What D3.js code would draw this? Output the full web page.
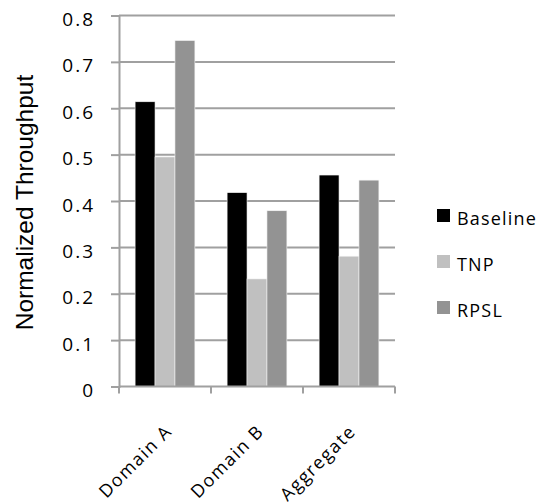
<!DOCTYPE html>
<html>
<head>
<meta charset="utf-8">
<script src="https://cdn.jsdelivr.net/npm/d3@7"></script>
<style>
  body { margin: 0; background: #fff; }
  text { font-family: "Open Sans", "Liberation Sans", sans-serif; fill: #000; }
</style>
</head>
<body>
<div id="chart"></div>
<script>
// data
const categories = ["Domain A", "Domain B", "Aggregate"];
const seriesNames = ["Baseline", "TNP", "RPSL"];
const baseline = [0.614, 0.418, 0.456];
const tnp = [0.495, 0.232, 0.281];
const rpsl = [0.746, 0.379, 0.445];
const yTicks = [0, 0.1, 0.2, 0.3, 0.4, 0.5, 0.6, 0.7, 0.8];

const colors = ["#000000", "#c0c0c0", "#939393"];
const seriesValues = [baseline, tnp, rpsl];

const margin = { top: 15.5, right: 148, bottom: 117.5, left: 119 };
const width = 543 - margin.left - margin.right;
const height = 504 - margin.top - margin.bottom;

const svg = d3.select("#chart")
    .append("svg")
    .attr("width", 543)
    .attr("height", 504);

const g = svg.append("g")
    .attr("transform", `translate(${margin.left},${margin.top})`);

const x0 = d3.scaleBand()
    .domain(categories)
    .range([0, width])
    .paddingInner(0.35)
    .paddingOuter(0.175);

const x1 = d3.scaleBand()
    .domain(seriesNames)
    .range([0, x0.bandwidth()]);

const y = d3.scaleLinear()
    .domain([0, 0.8])
    .range([height, 0]);

// gridlines + y axis
const yAxis = d3.axisLeft(y)
    .tickValues(yTicks)
    .tickFormat(d => d === 0 ? "0" : d3.format(".1f")(d))
    .tickSize(8)
    .tickPadding(16);

g.append("g")
    .selectAll("line")
    .data(yTicks.filter(d => d > 0))
    .join("line")
    .attr("x1", 0)
    .attr("x2", width)
    .attr("y1", d => y(d))
    .attr("y2", d => y(d))
    .attr("stroke", "#a0a0a0")
    .attr("stroke-width", 2);

const ya = g.append("g").call(yAxis);
ya.select(".domain").attr("stroke", "#a0a0a0").attr("stroke-width", 2);
ya.selectAll(".tick line").attr("stroke", "#a0a0a0").attr("stroke-width", 2);
ya.selectAll(".tick text")
    .attr("y", 4)
    .style("font-size", "19px")
    .style("letter-spacing", "2px");

// bars
const rows = categories.map((c, i) => ({
    cat: c,
    vals: seriesNames.map((s, j) => ({ name: s, value: seriesValues[j][i], color: colors[j] }))
}));

g.append("g")
    .selectAll("g")
    .data(rows)
    .join("g")
    .attr("transform", d => `translate(${x0(d.cat)},0)`)
    .selectAll("rect")
    .data(d => d.vals)
    .join("rect")
    .attr("x", d => x1(d.name))
    .attr("width", x1.bandwidth())
    .attr("y", d => y(d.value))
    .attr("height", d => height - y(d.value))
    .attr("fill", d => d.color)
    .attr("stroke", "#f4f4f4")
    .attr("stroke-width", 0.6);

// x axis with ticks between categories
const xa = g.append("g")
    .attr("transform", `translate(0,${height})`);

xa.append("line")
    .attr("x1", 0).attr("x2", width)
    .attr("stroke", "#a0a0a0").attr("stroke-width", 2);

const step = x0.step();
const bounds = [0].concat(categories.map((c, i) => x0(c) + x0.bandwidth() + step * x0.paddingInner() / 2));
bounds[bounds.length - 1] = width;
xa.selectAll(".sep")
    .data(bounds)
    .join("line")
    .attr("x1", d => d).attr("x2", d => d)
    .attr("y1", 0).attr("y2", 7)
    .attr("stroke", "#a0a0a0").attr("stroke-width", 2);

xa.selectAll(".lab")
    .data(categories)
    .join("text")
    .attr("transform", d => `translate(${x0(d) + x0.bandwidth() / 2 + 8},${46}) rotate(-45)`)
    .attr("text-anchor", "end")
    .style("font-size", "18px")
    .style("letter-spacing", "1.5px")
    .text(d => d);

// y title
svg.append("text")
    .attr("transform", `translate(33,202.5) rotate(-90)`)
    .attr("text-anchor", "middle")
    .style("font-family", "'Liberation Sans', Arial, sans-serif")
    .style("font-size", "24.5px")
    .text("Normalized Throughput");

// legend
const legend = svg.append("g")
    .attr("transform", "translate(437,209)");

const lg = legend.selectAll("g")
    .data(seriesNames)
    .join("g")
    .attr("transform", (d, i) => `translate(0,${i * 46})`);

lg.append("rect")
    .attr("width", 13).attr("height", 13)
    .attr("fill", (d, i) => colors[i]);

lg.append("text")
    .attr("x", 20)
    .attr("y", 9.5)
    .attr("dy", "0.35em")
    .style("font-size", "18px")
    .style("letter-spacing", "1.2px")
    .text(d => d);
</script>
</body>
</html>
